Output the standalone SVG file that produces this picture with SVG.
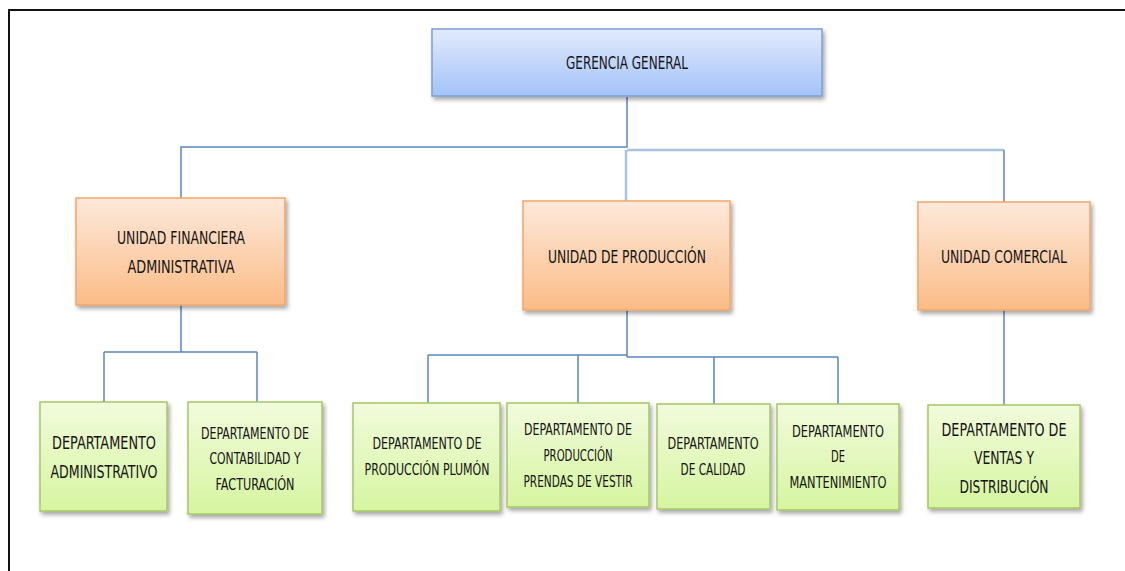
<svg xmlns="http://www.w3.org/2000/svg" width="1125" height="571" viewBox="0 0 1125 571">
  <defs>
    <linearGradient id="gBlue" x1="0" y1="0" x2="0" y2="1">
      <stop offset="0" stop-color="#e2ebfd"/>
      <stop offset="1" stop-color="#a3c2f8"/>
    </linearGradient>
    <linearGradient id="gOrange" x1="0" y1="0" x2="0" y2="1">
      <stop offset="0" stop-color="#fde9db"/>
      <stop offset="1" stop-color="#fbbc86"/>
    </linearGradient>
    <linearGradient id="gGreen" x1="0" y1="0" x2="0" y2="1">
      <stop offset="0" stop-color="#f1fbdc"/>
      <stop offset="1" stop-color="#d6f5a0"/>
    </linearGradient>
    <filter id="shadow" x="-10%" y="-10%" width="125%" height="130%">
      <feDropShadow dx="2" dy="3" stdDeviation="2" flood-color="#000" flood-opacity="0.35"/>
    </filter>
    <style>
      .box { filter: url(#shadow); stroke-width: 1.5; }
      .blue { fill: url(#gBlue); stroke: #7b9fd6; }
      .orange { fill: url(#gOrange); stroke: #f5a566; }
      .green { fill: url(#gGreen); stroke: #a5c862; }
      text { font-family: "DejaVu Sans Condensed", "Liberation Sans", sans-serif; fill: #141414; text-anchor: middle; }
      .t16 { font-size: 18px; }
      .t14 { font-size: 15.5px; }
      .conn { fill: none; stroke: #5b86c2; stroke-width: 1.5; }
      .conn2 { fill: none; stroke: #a9c0de; stroke-width: 2.5; }
    </style>
  </defs>

  <rect width="1125" height="571" fill="#ffffff"/>
  <!-- outer frame (top and left edges) -->
  <path d="M9 571 V10 H1125" fill="none" stroke="#111" stroke-width="2"/>

  <g id="connectors">
    <path class="conn" d="M627 97 V147 H181 V198"/>
    <path class="conn2" d="M627 150 H1004"/>
    <path class="conn2" d="M626 150 V201"/>
    <path class="conn" d="M1004 150 V202"/>
    <path class="conn" d="M181 305 V352 M104 352 H257 M104 352 V402 M257 352 V402"/>
    <path class="conn" d="M627 310 V357 M428 355 H627 M627 357 H838 M428 355 V403 M578 355 V403 M714 357 V404 M838 357 V404"/>
    <path class="conn" d="M1004 310 V405"/>
  </g>

  <g id="gerencia-general">
    <rect class="box blue" x="432" y="29" width="390" height="67"/>
    <text class="t16" x="627" y="69" textLength="122" lengthAdjust="spacingAndGlyphs">GERENCIA GENERAL</text>
  </g>

  <g id="unidad-financiera">
    <rect class="box orange" x="76" y="198" width="209" height="107"/>
    <text class="t16" x="181" y="244" textLength="128" lengthAdjust="spacingAndGlyphs">UNIDAD FINANCIERA</text>
    <text class="t16" x="181" y="273" textLength="107" lengthAdjust="spacingAndGlyphs">ADMINISTRATIVA</text>
  </g>

  <g id="unidad-produccion">
    <rect class="box orange" x="523" y="201" width="207" height="109"/>
    <text class="t16" x="627" y="263" textLength="158" lengthAdjust="spacingAndGlyphs">UNIDAD DE PRODUCCIÓN</text>
  </g>

  <g id="unidad-comercial">
    <rect class="box orange" x="918" y="202" width="172" height="108"/>
    <text class="t16" x="1004" y="263" textLength="126" lengthAdjust="spacingAndGlyphs">UNIDAD COMERCIAL</text>
  </g>

  <g id="depto-administrativo">
    <rect class="box green" x="40" y="402" width="127" height="109"/>
    <text class="t16" x="104" y="449" textLength="104" lengthAdjust="spacingAndGlyphs">DEPARTAMENTO</text>
    <text class="t16" x="104" y="478" textLength="107" lengthAdjust="spacingAndGlyphs">ADMINISTRATIVO</text>
  </g>

  <g id="depto-contabilidad">
    <rect class="box green" x="188" y="402" width="134" height="112"/>
    <text class="t14" x="255" y="439" textLength="108" lengthAdjust="spacingAndGlyphs">DEPARTAMENTO DE</text>
    <text class="t14" x="255" y="464" textLength="91" lengthAdjust="spacingAndGlyphs">CONTABILIDAD Y</text>
    <text class="t14" x="255" y="490" textLength="79" lengthAdjust="spacingAndGlyphs">FACTURACIÓN</text>
  </g>

  <g id="depto-plumon">
    <rect class="box green" x="353" y="403" width="147" height="108"/>
    <text class="t14" x="427" y="449" textLength="109" lengthAdjust="spacingAndGlyphs">DEPARTAMENTO DE</text>
    <text class="t14" x="427" y="475" textLength="125" lengthAdjust="spacingAndGlyphs">PRODUCCIÓN  PLUMÓN</text>
  </g>

  <g id="depto-prendas">
    <rect class="box green" x="507" y="403" width="142" height="104"/>
    <text class="t14" x="578" y="435" textLength="108" lengthAdjust="spacingAndGlyphs">DEPARTAMENTO DE</text>
    <text class="t14" x="578" y="461" textLength="69" lengthAdjust="spacingAndGlyphs">PRODUCCIÓN</text>
    <text class="t14" x="578" y="487" textLength="109" lengthAdjust="spacingAndGlyphs">PRENDAS DE VESTIR</text>
  </g>

  <g id="depto-calidad">
    <rect class="box green" x="657" y="404" width="113" height="105"/>
    <text class="t14" x="713" y="449" textLength="91" lengthAdjust="spacingAndGlyphs">DEPARTAMENTO</text>
    <text class="t14" x="713" y="475" textLength="65" lengthAdjust="spacingAndGlyphs">DE CALIDAD</text>
  </g>

  <g id="depto-mantenimiento">
    <rect class="box green" x="777" y="404" width="122" height="106"/>
    <text class="t14" x="838" y="437" textLength="92" lengthAdjust="spacingAndGlyphs">DEPARTAMENTO</text>
    <text class="t14" x="838" y="462" textLength="14" lengthAdjust="spacingAndGlyphs">DE</text>
    <text class="t14" x="838" y="488" textLength="97" lengthAdjust="spacingAndGlyphs">MANTENIMIENTO</text>
  </g>

  <g id="depto-ventas">
    <rect class="box green" x="928" y="405" width="152" height="103"/>
    <text class="t16" x="1004" y="436" textLength="125" lengthAdjust="spacingAndGlyphs">DEPARTAMENTO DE</text>
    <text class="t16" x="1004" y="464" textLength="60" lengthAdjust="spacingAndGlyphs">VENTAS Y</text>
    <text class="t16" x="1004" y="493" textLength="89" lengthAdjust="spacingAndGlyphs">DISTRIBUCIÓN</text>
  </g>
</svg>
